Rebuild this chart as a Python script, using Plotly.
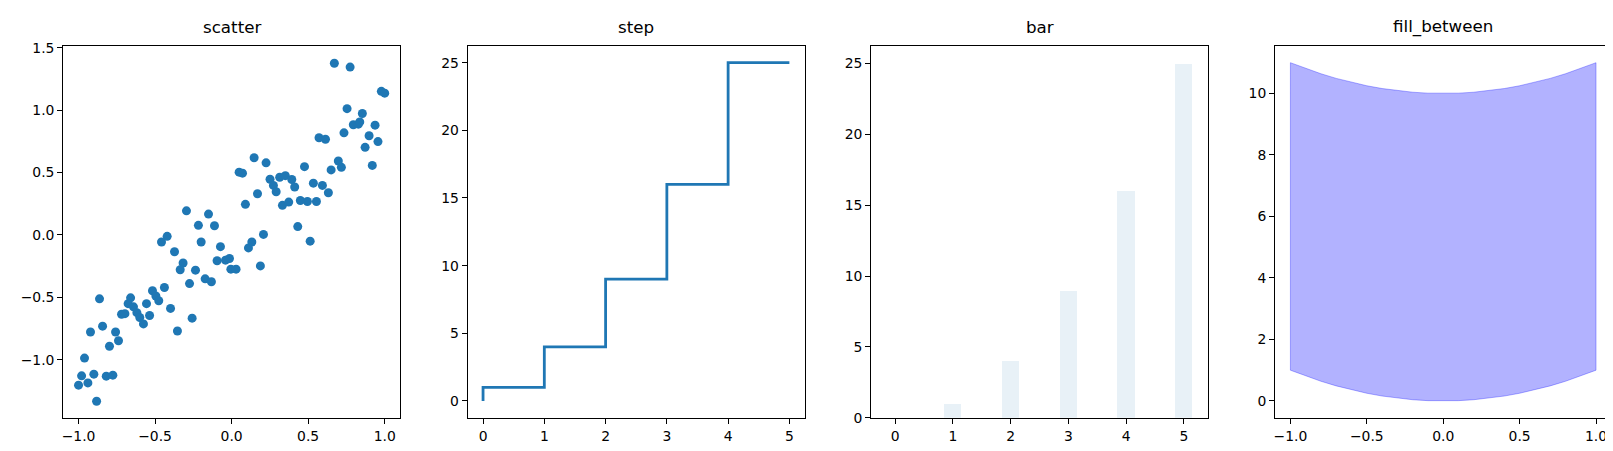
import plotly.graph_objects as go

# scatter panel
scatter_x = [
    0.671, 0.774, 0.978, 1.0, 0.754, 0.854, 0.795, 0.828, 0.837, 0.937,
    0.734, 0.898, 0.956, 0.872, 0.571, 0.613, 0.919, 0.147, 0.225, 0.049,
    0.071, 0.476, 0.697, 0.717, 0.650, 0.534, 0.593, 0.632, 0.169, 0.251,
    0.314, 0.351, 0.393, 0.412, 0.273, 0.291, 0.090, 0.332, 0.373, 0.449,
    0.495, 0.554, 0.432, 0.513, 0.208, 0.110, 0.132, 0.188, -0.005, 0.029,
    -0.014, -0.040, -0.095, -0.073, -0.112, -0.151, -0.217, -0.295, -0.199, -0.421,
    -0.458, -0.373, -0.317, -0.336, -0.236, -0.275, -0.173, -0.132, -0.439, -0.517,
    -0.495, -0.476, -0.399, -0.258, -0.354, -0.556, -0.536, -0.660, -0.676, -0.641,
    -0.619, -0.600, -0.576, -0.719, -0.697, -0.863, -0.843, -0.922, -0.758, -0.739,
    -0.798, -0.961, -0.980, -1.0, -0.939, -0.900, -0.819, -0.776, -0.882,
]
scatter_y = [
    1.376, 1.345, 1.151, 1.136, 1.012, 0.973, 0.883, 0.888, 0.906, 0.880,
    0.818, 0.795, 0.748, 0.702, 0.779, 0.767, 0.557, 0.619, 0.578, 0.503,
    0.495, 0.547, 0.593, 0.542, 0.521, 0.415, 0.397, 0.338, 0.330, 0.446,
    0.462, 0.475, 0.444, 0.384, 0.397, 0.346, 0.245, 0.237, 0.263, 0.276,
    0.268, 0.268, 0.067, -0.050, 0.004, -0.104, -0.057, -0.248, -0.274, -0.274,
    -0.189, -0.202, -0.207, -0.094, 0.074, 0.167, 0.077, 0.193, -0.057, -0.011,
    -0.057, -0.135, -0.225, -0.279, -0.282, -0.390, -0.352, -0.375, -0.421, -0.447,
    -0.489, -0.527, -0.589, -0.667, -0.770, -0.551, -0.646, -0.504, -0.551, -0.576,
    -0.623, -0.662, -0.713, -0.636, -0.631, -0.512, -0.731, -0.778, -0.778, -0.848,
    -0.892, -0.987, -1.129, -1.204, -1.186, -1.116, -1.132, -1.124, -1.333,
]

# step / bar panels
step_x = [0, 1, 2, 3, 4, 5]
step_y = [0, 1, 4, 9, 16, 25]
bar_x = [0, 1, 2, 3, 4, 5]
bar_y = [0, 1, 4, 9, 16, 25]

# fill_between panel
fill_x = [-1.0, -0.9, -0.8, -0.7, -0.6, -0.5, -0.4, -0.3, -0.2, -0.1, 0.0,
          0.1, 0.2, 0.3, 0.4, 0.5, 0.6, 0.7, 0.8, 0.9, 1.0]
fill_lower = [1.0, 0.81, 0.64, 0.49, 0.36, 0.25, 0.16, 0.09, 0.04, 0.01, 0.0,
              0.01, 0.04, 0.09, 0.16, 0.25, 0.36, 0.49, 0.64, 0.81, 1.0]
fill_upper = [11.0, 10.81, 10.64, 10.49, 10.36, 10.25, 10.16, 10.09, 10.04, 10.01, 10.0,
              10.01, 10.04, 10.09, 10.16, 10.25, 10.36, 10.49, 10.64, 10.81, 11.0]

titles = ["scatter", "step", "bar", "fill_between"]

W, H = 1613, 451
C0 = "#1f77b4"
FONT = "'DejaVu Sans', Verdana, sans-serif"

# panel frames in pixels (left, right); shared top/bottom
panels = [(53.3, 390.5), (458.3, 795.7), (862.3, 1199.3), (1266.7, 1603.3)]
top_px, bottom_px = 32.8, 416.8
ydom = [1 - bottom_px / H, 1 - top_px / H]

fig = go.Figure()

fig.add_trace(go.Scatter(
    x=scatter_x, y=scatter_y, mode="markers",
    marker=dict(color=C0, size=9, line=dict(width=0)),
    xaxis="x", yaxis="y",
))
fig.add_trace(go.Scatter(
    x=step_x, y=step_y, mode="lines", line=dict(color=C0, width=2.8, shape="vh"),
    xaxis="x2", yaxis="y2",
))
fig.add_trace(go.Bar(
    x=bar_x, y=bar_y, width=0.3, marker=dict(color="rgba(31,119,180,0.1)", line=dict(width=0)),
    xaxis="x3", yaxis="y3",
))
poly_x = fill_x + fill_x[::-1] + [fill_x[0]]
poly_y = fill_lower + fill_upper[::-1] + [fill_lower[0]]
fig.add_trace(go.Scatter(
    x=poly_x, y=poly_y, mode="lines", fill="toself",
    fillcolor="rgba(0,0,255,0.3)", line=dict(color="rgba(0,0,255,0.3)", width=1),
    xaxis="x4", yaxis="y4",
))

axis_common = dict(
    showline=True, linecolor="black", linewidth=1.1, mirror=True,
    ticks="outside", ticklen=5, tickwidth=1.1, tickcolor="black",
    showgrid=False, zeroline=False,
    tickfont=dict(family=FONT, size=13.9, color="black"),
)

xranges = [[-1.1, 1.1], [-0.25, 5.25], [-0.415, 5.415], [-1.1, 1.1]]
yranges = [[-1.466, 1.516], [-1.25, 26.25], [0, 26.25], [-0.55, 11.55]]
xticks = [dict(dtick=0.5, tick0=0, tickformat=".1f"), dict(dtick=1, tick0=0),
          dict(dtick=1, tick0=0), dict(dtick=0.5, tick0=0, tickformat=".1f")]
yticks = [dict(dtick=0.5, tick0=0, tickformat=".1f"), dict(dtick=5, tick0=0),
          dict(dtick=5, tick0=0), dict(dtick=2, tick0=0)]

layout = dict(
    width=W, height=H, margin=dict(l=0, r=0, t=0, b=0),
    paper_bgcolor="white", plot_bgcolor="white", showlegend=False,
    font=dict(family=FONT, color="black"),
    bargap=0,
)
annotations = []
for i, (l, r) in enumerate(panels):
    sfx = "" if i == 0 else str(i + 1)
    layout["xaxis" + sfx] = dict(
        axis_common, domain=[l / W, r / W], range=xranges[i],
        anchor="y" + sfx, **xticks[i],
    )
    layout["yaxis" + sfx] = dict(
        axis_common, domain=ydom, range=yranges[i],
        anchor="x" + sfx, **yticks[i],
    )
    annotations.append(dict(
        text=titles[i], x=(l + r) / 2 / W, y=1 - 26 / H, xref="paper", yref="paper",
        xanchor="center", yanchor="bottom", showarrow=False,
        font=dict(family=FONT, size=16.7, color="black"),
    ))
layout["annotations"] = annotations
fig.update_layout(**layout)

fig.write_html("out.html")
